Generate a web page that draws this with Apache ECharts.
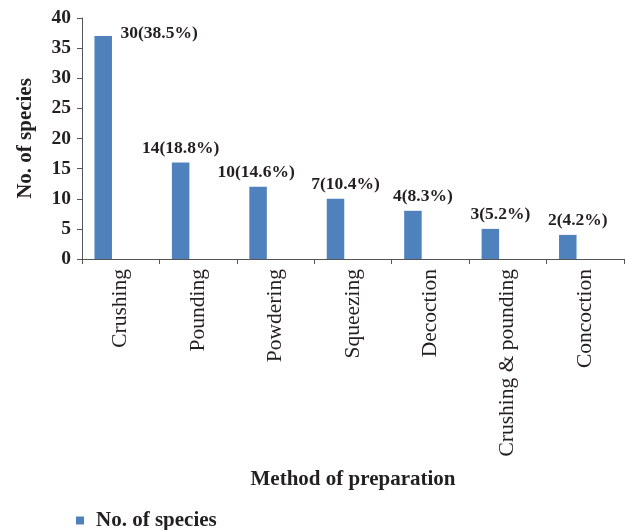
<!DOCTYPE html>
<html>
<head>
<meta charset="utf-8">
<script src="https://cdn.jsdelivr.net/npm/echarts@6/dist/echarts.min.js"></script>
<style>
  html, body { margin: 0; padding: 0; background: #fff; }
  #chart { width: 625px; height: 530px; }
</style>
</head>
<body>
<div id="chart"></div>
<script>
const methods = ['Crushing', 'Pounding', 'Powdering', 'Squeezing', 'Decoction', 'Crushing & pounding', 'Concoction'];
const speciesCounts = [37, 16, 12, 10, 8, 5, 4];
const barLabels = ['30(38.5%)', '14(18.8%)', '10(14.6%)', '7(10.4%)', '4(8.3%)', '3(5.2%)', '2(4.2%)'];
const yTicks = [0, 5, 10, 15, 20, 25, 30, 35, 40];

const serif = '"Liberation Serif", "DejaVu Serif", serif';
const ink = '#231f20';

// label placement nudges, as in the source figure
function labelStyle(i) {
  if (i === 0) return { position: [26, -3], align: 'left', verticalAlign: 'middle' };
  if (i === 2) return { offset: [-2, 0] };
  if (i >= 3) return { offset: [10, 0] };
  return {};
}

const chart = echarts.init(document.getElementById('chart'), null, { renderer: 'canvas' });

chart.setOption({
  animation: false,
  grid: { left: 82, right: 1, top: 18, bottom: 271 },
  legend: {
    data: ['No. of species'],
    left: 71, top: 505,
    icon: 'rect', itemWidth: 8, itemHeight: 8, itemGap: 11,
    textStyle: { fontFamily: serif, fontWeight: 'bold', fontSize: 21, color: ink, padding: [0, 0, 0, 7] }
  },
  xAxis: {
    type: 'category',
    data: methods,
    name: 'Method of preparation',
    nameLocation: 'middle',
    nameGap: 210,
    nameTextStyle: { fontFamily: serif, fontWeight: 'bold', fontSize: 21, color: ink },
    axisLine: { lineStyle: { color: '#555', width: 1 } },
    axisTick: { show: true, length: 5, lineStyle: { color: '#555' } },
    axisLabel: { rotate: 90, margin: 10, fontFamily: serif, fontSize: 21.5, color: ink, interval: 0 }
  },
  yAxis: {
    type: 'value',
    min: yTicks[0], max: yTicks[yTicks.length - 1], interval: 5,
    name: 'No. of species',
    nameLocation: 'middle',
    nameGap: 46,
    nameTextStyle: { fontFamily: serif, fontWeight: 'bold', fontSize: 21, color: ink },
    axisLine: { show: true, lineStyle: { color: '#555', width: 1 } },
    axisTick: { show: true, length: 5, lineStyle: { color: '#555' } },
    splitLine: { show: false },
    axisLabel: { margin: 11, fontFamily: serif, fontWeight: 'bold', fontSize: 19.5, color: ink }
  },
  series: [
    {
      name: 'No. of species',
      type: 'bar',
      barWidth: 17.5,
      barGap: '100%',
      itemStyle: { color: '#4f81bd' },
      data: speciesCounts.map((v, i) => ({ value: v, label: labelStyle(i) })),
      label: {
        show: true,
        position: 'top',
        distance: 5,
        fontFamily: serif, fontWeight: 'bold', fontSize: 17.5, color: ink,
        formatter: p => barLabels[p.dataIndex]
      }
    },
    {
      name: 'spacer',
      type: 'bar',
      barWidth: 17.5,
      data: []
    }
  ]
});
</script>
</body>
</html>
